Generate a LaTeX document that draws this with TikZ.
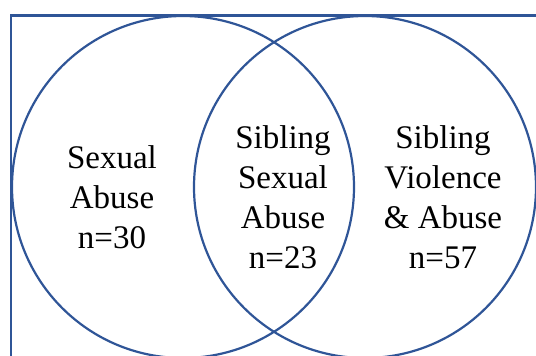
\documentclass[tikz,border=0pt]{standalone}
\usepackage{fontspec}
\setmainfont{Liberation Serif}
\usepackage{tikz}
\definecolor{setblue}{HTML}{2F5597}
\tikzset{%
    every set/.style={
      circle,
      draw=setblue,
      line width=2.2pt,
      minimum size=342pt,
      inner sep=0pt
    },
    set label/.style={
      align=center,
      font=\fontsize{33}{40}\selectfont,
      text=black
    }
  }
\begin{document}
\begin{tikzpicture}[x=1pt, y=-1pt]
      \useasboundingbox (0,0) rectangle (536,356);
      \clip (0,0) rectangle (536,356);

      \draw [setblue, line width=2.2pt] (10.7,15.5) rectangle (560,380);

      \node [every set] (sa) at (183,187) {};
      \node [every set] (sva) at (365,187) {};

      \node [set label] (lsa) at (112,197) {Sexual\\Abuse\\n=30};
      \node [set label] (lssa) at (283,197) {Sibling\\Sexual\\Abuse\\n=23};
      \node [set label] (lsva) at (443,197) {Sibling\\Violence\\\& Abuse\\n=57};
\end{tikzpicture}
\end{document}
